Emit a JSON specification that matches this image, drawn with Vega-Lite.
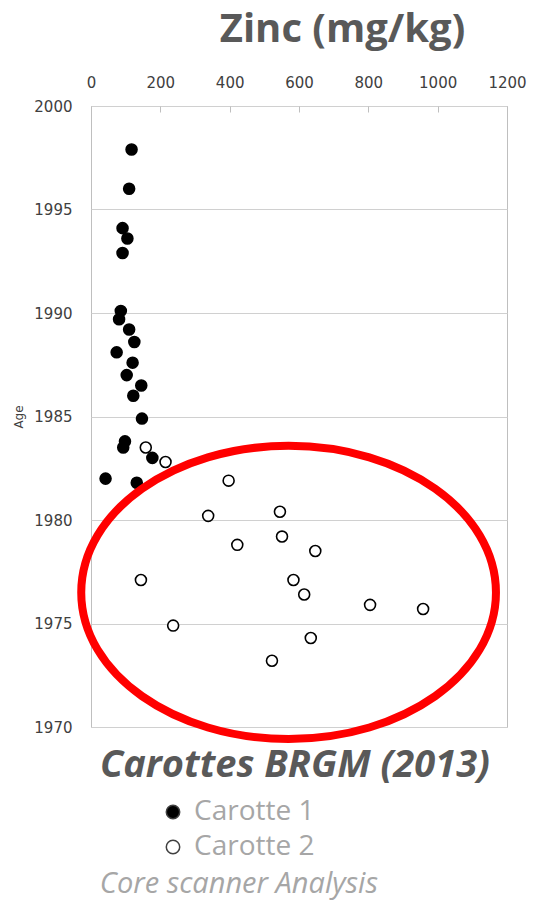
{
  "$schema": "https://vega.github.io/schema/vega-lite/v6.json",
  "autosize": "none",
  "width": 416,
  "height": 621,
  "padding": {"left": 91, "top": 106, "right": 26, "bottom": 174},
  "background": "white",
  "title": {
    "text": "Core scanner Analysis",
    "orient": "bottom",
    "anchor": "start",
    "font": "Open Sans",
    "fontSize": 29,
    "fontStyle": "italic",
    "fontWeight": "normal",
    "color": "#a6a6a6",
    "dx": 87,
    "offset": 9
  },
  "config": {
    "view": {"stroke": "#bfbfbf", "strokeWidth": 1}
  },
  "datasets": {
    "cores": [
      {"carotte": "Carotte 1", "zinc": 117, "age": 1997.9},
      {"carotte": "Carotte 1", "zinc": 110, "age": 1996.0},
      {"carotte": "Carotte 1", "zinc": 91, "age": 1994.1},
      {"carotte": "Carotte 1", "zinc": 105, "age": 1993.6},
      {"carotte": "Carotte 1", "zinc": 91, "age": 1992.9},
      {"carotte": "Carotte 1", "zinc": 86, "age": 1990.1},
      {"carotte": "Carotte 1", "zinc": 81, "age": 1989.7},
      {"carotte": "Carotte 1", "zinc": 110, "age": 1989.2},
      {"carotte": "Carotte 1", "zinc": 125, "age": 1988.6},
      {"carotte": "Carotte 1", "zinc": 74, "age": 1988.1},
      {"carotte": "Carotte 1", "zinc": 120, "age": 1987.6},
      {"carotte": "Carotte 1", "zinc": 103, "age": 1987.0},
      {"carotte": "Carotte 1", "zinc": 145, "age": 1986.5},
      {"carotte": "Carotte 1", "zinc": 122, "age": 1986.0},
      {"carotte": "Carotte 1", "zinc": 147, "age": 1984.9},
      {"carotte": "Carotte 1", "zinc": 98, "age": 1983.8},
      {"carotte": "Carotte 1", "zinc": 93, "age": 1983.5},
      {"carotte": "Carotte 1", "zinc": 177, "age": 1983.0},
      {"carotte": "Carotte 1", "zinc": 42, "age": 1982.0},
      {"carotte": "Carotte 1", "zinc": 132, "age": 1981.8},
      {"carotte": "Carotte 2", "zinc": 158, "age": 1983.5},
      {"carotte": "Carotte 2", "zinc": 215, "age": 1982.8},
      {"carotte": "Carotte 2", "zinc": 397, "age": 1981.9},
      {"carotte": "Carotte 2", "zinc": 338, "age": 1980.2},
      {"carotte": "Carotte 2", "zinc": 422, "age": 1978.8},
      {"carotte": "Carotte 2", "zinc": 144, "age": 1977.1},
      {"carotte": "Carotte 2", "zinc": 237, "age": 1974.9},
      {"carotte": "Carotte 2", "zinc": 545, "age": 1980.4},
      {"carotte": "Carotte 2", "zinc": 551, "age": 1979.2},
      {"carotte": "Carotte 2", "zinc": 647, "age": 1978.5},
      {"carotte": "Carotte 2", "zinc": 584, "age": 1977.1},
      {"carotte": "Carotte 2", "zinc": 615, "age": 1976.4},
      {"carotte": "Carotte 2", "zinc": 805, "age": 1975.9},
      {"carotte": "Carotte 2", "zinc": 958, "age": 1975.7},
      {"carotte": "Carotte 2", "zinc": 634, "age": 1974.3},
      {"carotte": "Carotte 2", "zinc": 522, "age": 1973.2}
    ],
    "zone": [
      {"zinc": 570, "age": 1976.5}
    ]
  },
  "layer": [
    {
      "data": {"name": "cores"},
      "mark": {"type": "point", "filled": true, "size": 120, "stroke": "#000000", "strokeWidth": 1.6, "opacity": 1},
      "encoding": {
        "x": {
          "field": "zinc",
          "type": "quantitative",
          "scale": {"domain": [0, 1200], "nice": false, "zero": true},
          "axis": {
            "orient": "top",
            "values": [0, 200, 400, 600, 800, 1000, 1200],
            "format": "d",
            "grid": false,
            "domain": false,
            "ticks": true,
            "tickSize": -6,
            "tickColor": "#bfbfbf",
            "labelPadding": 22,
            "labelFont": "DejaVu Sans",
            "labelFontSize": 15,
            "labelColor": "#404040",
            "labelFlush": false,
            "title": "Zinc (mg/kg)",
            "titleFont": "Open Sans",
            "titleFontSize": 40,
            "titleFontWeight": "bold",
            "titleColor": "#595959",
            "titleX": 251,
            "titleY": -65,
            "titleAlign": "center",
            "titleBaseline": "alphabetic",
            "titleAngle": 0
          }
        },
        "y": {
          "field": "age",
          "type": "quantitative",
          "scale": {"domain": [1970, 2000], "nice": false, "zero": false},
          "axis": {
            "values": [1970, 1975, 1980, 1985, 1990, 1995, 2000],
            "format": "d",
            "grid": true,
            "gridColor": "#d0d0d0",
            "gridWidth": 1,
            "domain": false,
            "ticks": false,
            "labelPadding": 19,
            "labelFont": "DejaVu Sans",
            "labelFontSize": 15,
            "labelColor": "#404040",
            "labelFlush": false,
            "title": "Age",
            "titleFont": "DejaVu Sans",
            "titleFontSize": 12,
            "titleFontWeight": "normal",
            "titleColor": "#404040",
            "titlePadding": 8
          }
        },
        "fill": {
          "field": "carotte",
          "type": "nominal",
          "scale": {"domain": ["Carotte 1", "Carotte 2"], "range": ["#000000", "#ffffff"]},
          "legend": {
            "orient": "none",
            "legendX": 9,
            "legendY": 641,
            "padding": 0,
            "title": "Carottes BRGM (2013)",
            "titleFont": "Open Sans",
            "titleFontSize": 38,
            "titleFontWeight": "bold",
            "titleFontStyle": "italic",
            "titleColor": "#595959",
            "titleBaseline": "top",
            "titlePadding": 13,
            "titleLimit": 500,
            "symbolOffset": 59,
            "symbolType": "circle",
            "symbolSize": 180,
            "symbolStrokeColor": "#404040",
            "symbolStrokeWidth": 1.5,
            "labelFont": "Open Sans",
            "labelFontSize": 28,
            "labelColor": "#a6a6a6",
            "labelOffset": 7,
            "rowPadding": 7,
            "labelLimit": 300,
            "encode": {
              "symbols": {
                "update": {
                  "fill": {"signal": "datum.value === 'Carotte 1' ? '#595959' : '#ffffff'"},
                  "stroke": {"value": "#404040"}
                }
              }
            }
          }
        }
      }
    },
    {
      "data": {"name": "zone"},
      "mark": {
        "type": "point",
        "shape": "M -1 0 A 1 0.707 0 1 0 1 0 A 1 0.707 0 1 0 -1 0 Z",
        "size": 172000,
        "filled": false,
        "fill": "transparent",
        "stroke": "#ff0000",
        "strokeWidth": 8,
        "opacity": 1
      },
      "encoding": {
        "x": {"field": "zinc", "type": "quantitative"},
        "y": {"field": "age", "type": "quantitative"}
      }
    }
  ]
}
